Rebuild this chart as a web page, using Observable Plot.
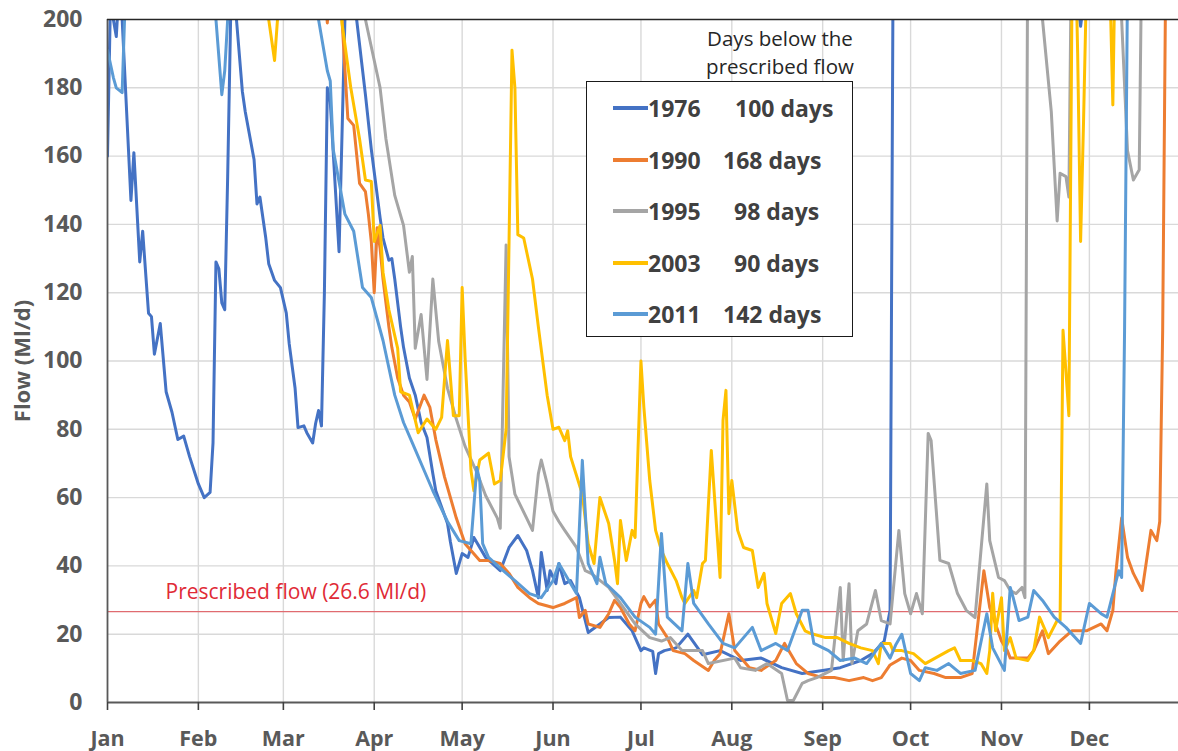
<!DOCTYPE html>
<html><head><meta charset="utf-8">
<script src="https://cdn.jsdelivr.net/npm/d3@7"></script>
<script src="https://cdn.jsdelivr.net/npm/@observablehq/plot@0.6"></script>
<style>
body{margin:0;background:#fff;overflow:hidden;font-family:"Open Sans",sans-serif;}
#wrap{position:relative;width:1178px;height:751px;}
#legend{position:absolute;left:586px;top:81px;width:265px;height:254px;border:1.6px solid #1a1a1a;background:#fff;}
.sw{position:absolute;left:26px;width:35px;height:3.5px;}
.yr,.dy{position:absolute;font-weight:bold;font-size:23px;color:#404040;line-height:30px;height:30px;white-space:nowrap;}
#note{position:absolute;left:680px;width:200px;top:24px;text-align:center;font-size:20.5px;line-height:28px;color:#262626;}
</style></head>
<body><div id="wrap"></div>
<script>
// ---- data ----
const monthNames = ["Jan","Feb","Mar","Apr","May","Jun","Jul","Aug","Sep","Oct","Nov","Dec"];
const monthStarts = [0,31,60,91,121,152,182,213,244,274,305,335];
const yTicks = [0,20,40,60,80,100,120,140,160,180,200];
const prescribedFlow = 26.6;
const prescribedLabel = "Prescribed flow (26.6 Ml/d)";
const yLabel = "Flow (Ml/d)";
const noteLines = ["Days below the", "prescribed flow"];
const years = ["1976","1990","1995","2003","2011"];
const daysBelow = ["100 days","168 days","98 days","90 days","142 days"];
const colors = ["#4472C4","#ED7D31","#A5A5A5","#FFC000","#5B9BD5"];

// [day of year, flow Ml/d]
const flow1976 = [[0,160],[1,205],[3,195],[4,210],[5,200],[8,147],[9,161],[11,129],[12,138],[14,114],[15,113],[16,102],[18,111],[20,91],[22,85],[24,77],[26,78],[28,72],[31,64],[33,60],[35,61.5],[36,76],[37,129],[38,127],[39,117],[40,115],[41,154],[42,200],[43,215],[44,200],[46,179],[47,173],[50,159],[51,146],[52,148],[54,136],[55,128.5],[57,123.6],[59,121.5],[61,114],[62,105],[64,92],[65,80.5],[67,81],[68,79],[70,76],[71,81.7],[72,85.5],[73,81],[74,120],[75,180],[76,176],[79,132],[81,200],[83,215],[85,200],[88,178],[90,162],[93,142],[94,136],[96,129.5],[97,130],[98,124],[100,110],[101,104],[103,95],[105,90],[107,82],[109,77.6],[111,67],[112,62],[116,52.4],[117,47],[119,37.8],[121,43.6],[123,42.5],[125,48.3],[129,42.5],[134,38.6],[137,45.4],[140,48.9],[143,44.5],[145,38.6],[147,30.7],[148,43.9],[150,32.8],[151,38.6],[153,34.8],[154,40.7],[156,34.8],[158,35.7],[161,30.7],[163,24],[164,20.5],[168,23],[171,24.9],[175,25],[179,21],[182,15.2],[183,16],[186,15],[187,8.5],[188,14.3],[190,15.2],[194,16],[198,20],[203,14],[209,15.2],[216,12.3],[223,13],[230,10.2],[237,8.5],[244,9.4],[250,10.2],[257,12.3],[261,14.3],[265,18],[267,27],[268,210],[280,260],[300,260],[320,230],[331,205],[332,198],[333,205],[345,260],[365,260]];

const flow1990 = [[0,260],[70,250],[75,199],[77,230],[80,200],[82,171],[84,169],[86,152],[88,149.6],[89,143],[90,135],[91,120],[92,139],[93,133],[94,124],[96,110],[97,104],[99,95],[101,90],[103,88],[105,83],[108,90],[110,86.4],[112,77],[115,66],[119,54],[122,46.5],[127,41.6],[130,41.6],[134,40.7],[137,37.8],[140,33.7],[144,30.7],[147,29],[152,27.8],[156,29],[160,30.7],[161,24.9],[163,27],[164,23],[168,22],[171,26],[173,29.9],[175,27.8],[178,23],[180,21],[182,29],[183,31],[185,28],[187,30],[188,23],[191,19],[193,15.2],[197,14.3],[200,12.3],[205,9.4],[207,12.3],[209,14.3],[212,26],[214,15.2],[219,10.2],[223,9.4],[228,12.3],[231,17.3],[235,11.4],[239,8.5],[244,7.3],[248,7.3],[253,6.4],[258,7.3],[261,6.4],[264,7.3],[267,11],[271,13],[274,12.3],[277,9.4],[282,8.5],[286,7.3],[291,7.3],[295,8.5],[299,38.6],[301,27.8],[305,18],[307,15.2],[308,13],[314,13],[316,15.2],[319,21],[321,14.3],[325,18],[329,21],[334,21],[339,23],[341,21],[343,27],[344,37.8],[346,54],[348,42.5],[350,37.8],[353,32.8],[356,50.4],[358,47.4],[359,53],[360,109],[361,210],[365,250]];

const flow1995 = [[0,260],[85,230],[88,200],[93,180],[95,165],[98,148.5],[101,139.7],[103,126],[104,130.6],[105,103.7],[107,113.6],[109,94.6],[111,124],[113,105.7],[116,92],[119,83],[122,75],[126,67.4],[129,60.6],[133,54],[134,51],[136,134],[137,72],[139,61],[143,54],[145,50.4],[147,67],[148,71],[150,64],[152,56],[154,53],[156,50.4],[160,45.4],[163,38.6],[165,37.8],[171,33.7],[175,29],[180,23],[185,19],[189,18],[192,19],[196,15.2],[199,15.2],[203,15.2],[205,11.4],[214,13],[216,10.2],[221,9.4],[225,11.4],[230,8.5],[232,0.6],[234,0.6],[237,5.6],[239,6.4],[242,7.3],[247,9.4],[250,33.7],[251,12.3],[253,34.8],[254,11.4],[256,21],[259,23],[262,32.8],[264,24],[267,23],[270,50.4],[272,31.9],[274,26],[276,31.9],[278,26],[280,78.8],[281,76.7],[284,41.6],[287,40.7],[290,31.9],[293,27],[296,24.9],[300,64],[301,47.4],[304,36.6],[306,35.7],[308,32.8],[310,31.9],[312,33.7],[313,30.7],[314,230],[319,200],[322,173],[324,141],[325,155],[327,154],[328,148],[329,230],[346,200],[348,161.6],[350,153],[352,156],[353,230],[365,260]];

const flow2003 = [[0,260],[54,230],[55,200],[57,188],[58,200],[59,230],[78,240],[80,199],[83,180],[86,165],[88,153],[90,152.6],[91,135],[93,139.7],[94,126],[96,115],[99,103.7],[100,91],[103,90],[106,79],[109,83],[112,80],[114,83.5],[116,106],[118,84],[120,84],[121,121.5],[122,101],[124,68],[125,62],[127,71],[130,73],[132,64],[134,65],[136,80],[137,135],[138,191],[139,180],[140,137],[142,136],[145,124],[147,110],[150,90],[152,80],[154,80.6],[156,76.7],[157,79.6],[158,72],[162,61],[164,46.5],[166,40.7],[168,60],[171,52.4],[173,41.6],[174,34.8],[175,53.3],[177,41.6],[179,50.4],[180,48.3],[182,100],[183,86.4],[185,65],[187,50.4],[189,44.5],[191,40.7],[194,35.7],[196,30.7],[197,29],[200,32.8],[201,30.7],[203,40.7],[204,41.6],[206,73.8],[209,36.6],[210,82.6],[211,91.4],[212,55.3],[213,65],[215,50.4],[217,45.4],[220,44.5],[222,33.7],[224,37.8],[225,29],[228,20.2],[230,29],[233,31.9],[235,26],[238,21],[240,20.2],[245,19],[249,19],[253,17.3],[257,16],[261,15.2],[263,11.4],[264,17.3],[267,17.3],[268,15.2],[271,15.2],[275,14.3],[279,11.4],[287,15.2],[289,16],[291,12.3],[295,12.3],[298,11.4],[300,8.5],[301,15.2],[302,32],[303,21],[305,30.7],[306,15.2],[308,19],[310,13],[314,12.3],[316,15.2],[318,25],[321,19],[324,24],[325,24],[326,109],[327,97],[328,84],[329,200],[330,230],[331,190],[332,135],[333,170],[334,210],[341,240],[342,210],[343,175],[344,230],[365,250]];

const flow2011 = [[0,191],[2,183],[3,180],[5,178.6],[6,205],[8,230],[30,240],[36,205],[37,200],[39,178],[40,185],[41,200],[42,230],[60,240],[71,210],[72,200],[75,185],[76,182],[77,162],[81,143],[84,138],[87,121.5],[90,118.6],[94,106],[98,90],[101,82],[104,76],[108,68],[111,62],[116,53],[120,47.4],[124,46.5],[126,68.8],[127,65],[128,46.5],[130,42.5],[135,38.6],[139,35.7],[144,31.9],[148,30.7],[152,35.7],[154,40.7],[156,37.8],[160,31.9],[162,70.9],[164,40.7],[167,34.8],[168,42.5],[170,34.8],[175,30.7],[180,25],[185,22],[187,20],[189,49.5],[191,25],[196,21],[198,40.7],[200,29],[205,23],[210,17.3],[214,16],[220,22],[223,15.2],[228,17.3],[232,15.2],[237,27],[239,27],[241,17.3],[246,15.2],[250,12.3],[255,13],[259,11.4],[264,17.3],[267,13],[269,17],[271,20],[273,12.3],[274,8.5],[277,6.4],[279,10.2],[283,9.4],[287,11.4],[291,8.5],[296,9.4],[300,26],[302,16],[306,9.4],[308,33.7],[309,30.7],[311,24],[314,25],[316,32.8],[319,29.9],[323,25],[327,22],[332,17.3],[335,29],[339,26],[341,25],[345,38.6],[346,36.6],[347,109],[348,210],[365,240]];

const seriesData = [flow1976, flow1990, flow1995, flow2003, flow2011];

// ---- chart ----
const lineMarks = seriesData.map((pts, i) =>
  Plot.line(pts, {x: d => d[0], y: d => d[1], stroke: colors[i], strokeWidth: 3,
    strokeLinejoin: "round", strokeLinecap: "round", clip: true}));

const chart = Plot.plot({
  width: 1178, height: 751,
  marginLeft: 107, marginRight: 0, marginTop: 19, marginBottom: 49,
  x: {domain: [0, 365.4]},
  y: {domain: [0, 200]},
  style: {fontFamily: "'Open Sans', sans-serif", fontSize: "22px", fontWeight: "bold", color: "#595959", background: "white", overflow: "visible"},
  marks: [
    Plot.ruleY(yTicks.slice(1, -1), {stroke: "#d9d9d9", strokeWidth: 1.4}),
    Plot.ruleX(monthStarts.slice(1), {stroke: "#d9d9d9", strokeWidth: 1.4}),
    Plot.ruleY([prescribedFlow], {stroke: "#e06b70", strokeWidth: 1.3}),
    Plot.text([prescribedLabel], {frameAnchor: "left", y: [prescribedFlow], text: d => d, dx: 58, dy: -19,
      textAnchor: "start", fill: "#e02a36", fontWeight: "normal", fontSize: 21}),
    ...lineMarks,
    Plot.ruleX([0], {stroke: "#595959", strokeWidth: 1.8}),
    Plot.ruleY([0], {stroke: "#595959", strokeWidth: 1.8}),
    Plot.ruleY([200], {stroke: "#262626", strokeWidth: 1.5}),
    Plot.axisY({ticks: yTicks, tickSize: 0, tickPadding: 25, label: null, fontSize: 23}),
    Plot.axisX({ticks: monthStarts, tickFormat: d => monthNames[monthStarts.indexOf(d)], tickSize: 8, tickPadding: 20, label: null, stroke: "#404040", strokeWidth: 1.6, fontSize: 21.5}),
    Plot.text([yLabel], {frameAnchor: "left", textAnchor: "middle", text: d => d, rotate: -90, dx: -85, fontSize: 22, fill: "#595959"})
  ]
});
const wrap = document.getElementById("wrap");
wrap.appendChild(chart);

// legend overlay
const note = document.createElement("div");
note.id = "note";
note.innerHTML = noteLines.join("<br>");
wrap.appendChild(note);
const legend = document.createElement("div");
legend.id = "legend";
const rowCenters = [26, 78, 129, 181, 232];
const daysLeft = [148, 136, 147, 147, 136];
years.forEach((yr, i) => {
  const sw = document.createElement("div");
  sw.className = "sw"; sw.style.background = colors[i];
  sw.style.top = (rowCenters[i] - 2) + "px";
  legend.appendChild(sw);
  const t = document.createElement("div");
  t.className = "yr"; t.textContent = yr;
  t.style.left = "61px"; t.style.top = (rowCenters[i] - 15) + "px";
  legend.appendChild(t);
  const d = document.createElement("div");
  d.className = "dy"; d.textContent = daysBelow[i];
  d.style.left = daysLeft[i] + "px"; d.style.top = (rowCenters[i] - 15) + "px";
  legend.appendChild(d);
});
wrap.appendChild(legend);
</script>
</body></html>
